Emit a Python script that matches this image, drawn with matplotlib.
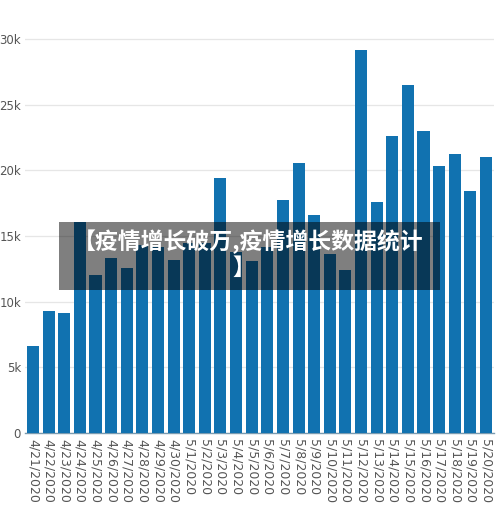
import matplotlib
matplotlib.use('Agg')
import matplotlib.pyplot as plt
from matplotlib.patches import Rectangle
from matplotlib.ticker import FuncFormatter

# daily numbers
dates = ['4/21/2020', '4/22/2020', '4/23/2020', '4/24/2020', '4/25/2020',
         '4/26/2020', '4/27/2020', '4/28/2020', '4/29/2020', '4/30/2020',
         '5/1/2020', '5/2/2020', '5/3/2020', '5/4/2020', '5/5/2020',
         '5/6/2020', '5/7/2020', '5/8/2020', '5/9/2020', '5/10/2020',
         '5/11/2020', '5/12/2020', '5/13/2020', '5/14/2020', '5/15/2020',
         '5/16/2020', '5/17/2020', '5/18/2020', '5/19/2020', '5/20/2020']
cases = [6600, 9300, 9100, 16100, 12000, 13300, 12600, 14300, 14200, 13200,
         14500, 14500, 19400, 13800, 13100, 14200, 17750, 20600, 16600, 13600,
         12400, 29200, 17600, 22600, 26500, 23000, 20300, 21250, 18400, 21000]
y_ticks = [0, 5000, 10000, 15000, 20000, 25000, 30000]

overlay_line1 = '【疫情增长破万,疫情增长数据统计'
overlay_line2 = '】'

fig = plt.figure(figsize=(5.0, 5.13), dpi=100)
ax = fig.add_axes([0.0504, 0.156, 0.9372, 0.7934])

x = list(range(len(dates)))
ax.bar(x, cases, width=0.77, color='#1172b0', zorder=3)

ax.set_xlim(-0.5, len(dates) - 0.5)
ax.set_ylim(0, 31000)
ax.set_yticks(y_ticks)
ax.yaxis.set_major_formatter(FuncFormatter(lambda v, p: '0' if v == 0 else '%dk' % (v / 1000)))
ax.set_xticks(x)
ax.set_xticklabels(dates, rotation=270, fontsize=9, color='#555555')
ax.tick_params(axis='y', labelsize=8.5, labelcolor='#555555', length=0, pad=3)
ax.tick_params(axis='x', length=0, pad=4)

ax.grid(axis='y', color='#e6e6e6', linewidth=0.9, zorder=0)
for s in ['top', 'right', 'left']:
    ax.spines[s].set_visible(False)
ax.spines['bottom'].set_color('#7a9bb0')
ax.spines['bottom'].set_linewidth(1.0)

# dark caption band drawn over the chart
fig.patches.append(Rectangle((0.118, 0.4347), 0.762, 0.1326, transform=fig.transFigure,
                             facecolor='black', alpha=0.5, zorder=10, edgecolor='none'))
fig.text(0.497, 0.528, overlay_line1, ha='center', va='center', color='white',
         fontsize=16.5, fontweight='bold', family=['Noto Sans CJK SC', 'DejaVu Sans'], zorder=11)
fig.text(0.487, 0.477, overlay_line2, ha='center', va='center', color='white',
         fontsize=16.5, fontweight='bold', family=['Noto Sans CJK SC', 'DejaVu Sans'], zorder=11)

fig.savefig('out.png', dpi=100)
